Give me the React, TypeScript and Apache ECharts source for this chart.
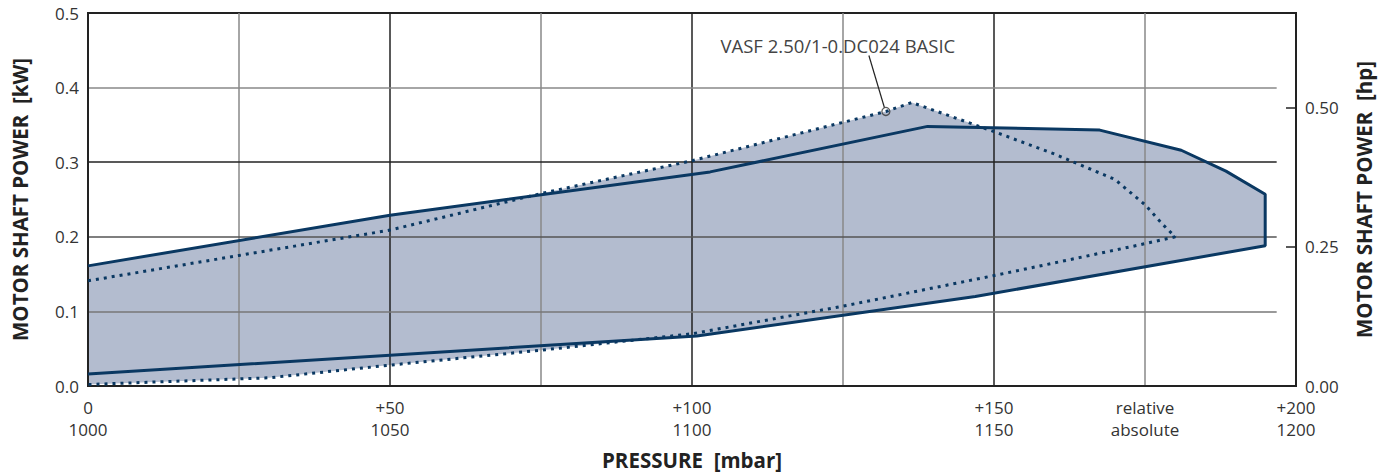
import React, { useEffect, useRef } from "react";
import * as echarts from "echarts";

// Pressure axis (relative mbar) tick labels
const X_TICKS = [0, 25, 50, 75, 100, 125, 150, 175, 200];
const REL_LABELS = ["0", "", "+50", "", "+100", "", "+150", "relative", "+200"];
const ABS_LABELS = ["1000", "", "1050", "", "1100", "", "1150", "absolute", "1200"];

// kW gridlines (they stop short of the right border)
const KW_GRID = [0.1, 0.2, 0.3, 0.4];
const KW_GRID_COLORS = ["#777", "#555", "#222", "#888"];
const KW_GRID_END = 196.8;

// Solid envelope (series range), traced around
const ENV_P = [0, 50, 103, 139, 167.5, 181, 188.4, 194.9, 194.9, 146.9, 100.8, 0];
const ENV_KW = [0.161, 0.229, 0.287, 0.348, 0.343, 0.316, 0.288, 0.257, 0.188, 0.12, 0.067, 0.016];

// Dotted curve: VASF 2.50/1-0.DC024 BASIC
const DOT_P = [0, 25, 50, 75, 100, 132.1, 136.4, 150, 160, 170, 175, 178, 180, 174, 160, 150, 125, 100, 75, 50, 30, 0];
const DOT_KW = [0.141, 0.175, 0.209, 0.258, 0.302, 0.368, 0.38, 0.341, 0.311, 0.277, 0.243, 0.216, 0.2, 0.189, 0.165, 0.148, 0.107, 0.07, 0.048, 0.028, 0.011, 0.002];

// Annotation
const ANNOT_NAME = "VASF 2.50/1-0.DC024 BASIC";
const ANNOT_P = 132.1;
const ANNOT_KW = 0.368;

const KW_PER_HP = 0.7457;
const FONT = "'Open Sans', Lato, sans-serif";
const NAVY = "#0a3862";
const FILL = "#b3bccf";

export default function App() {
  const ref = useRef<HTMLDivElement>(null);
  useEffect(() => {
    document.body.style.margin = "0";
    const chart = echarts.init(ref.current!, null, { renderer: "svg" });
    const polygon = (ps: number[], vs: number[]) => (params: any, api: any) => ({
      type: "polygon",
      shape: { points: ps.map((p, i) => api.coord([p, vs[i]])) },
      style: { fill: FILL, stroke: "none" },
    });
    const titleStyle = { fontFamily: FONT, fontWeight: "bold", fontSize: 20.5, color: "#222" };
    const labelStyle = { fontFamily: FONT, fontSize: 17, color: "#333" };
    chart.setOption({
      animation: false,
      grid: { left: 88, right: 100, top: 13, bottom: 87, show: true, borderColor: "#222", borderWidth: 2, backgroundColor: "transparent" },
      xAxis: {
        type: "value",
        min: 0,
        max: 200,
        interval: 25,
        z: 3,
        name: "PRESSURE  [mbar]",
        nameLocation: "middle",
        nameGap: 63,
        nameTextStyle: titleStyle,
        axisLine: { show: true, lineStyle: { color: "#222", width: 2 } },
        axisTick: { show: false },
        splitLine: { show: true, lineStyle: { color: ["#222", "#888"], width: 1.5 } },
        axisLabel: {
          ...labelStyle,
          lineHeight: 22,
          margin: 10,
          formatter: (v: number) => {
            const i = X_TICKS.indexOf(Math.round(v));
            if (i < 0 || !REL_LABELS[i]) return "";
            return REL_LABELS[i] + "\n" + ABS_LABELS[i];
          },
        },
      },
      yAxis: [
        {
          type: "value",
          min: 0,
          max: 0.5,
          interval: 0.1,
          z: 3,
          name: "MOTOR SHAFT POWER  [kW]",
          nameLocation: "middle",
          nameRotate: 90,
          nameGap: 58,
          nameTextStyle: titleStyle,
          axisLine: { show: true, lineStyle: { color: "#222", width: 2 } },
          axisTick: { show: false },
          splitLine: { show: false },
          axisLabel: { ...labelStyle, margin: 9, formatter: (v: number) => v.toFixed(1) },
        },
        {
          type: "value",
          min: 0,
          max: 0.5 / KW_PER_HP,
          interval: 0.25,
          z: 3,
          position: "right",
          name: "MOTOR SHAFT POWER  [hp]",
          nameLocation: "middle",
          nameRotate: 90,
          nameGap: 57,
          nameTextStyle: titleStyle,
          axisLine: { show: true, lineStyle: { color: "#222", width: 2 } },
          axisTick: { show: true, inside: true, length: 10, lineStyle: { color: "#222", width: 1.5 } },
          splitLine: { show: false },
          axisLabel: {
            ...labelStyle,
            margin: 9,
            formatter: (v: number) => (v > 0.6 ? "" : v.toFixed(2)),
          },
        },
      ],
      series: [
        { type: "custom", z: 1, renderItem: polygon(ENV_P, ENV_KW), data: [[0, 0]], silent: true },
        { type: "custom", z: 1, renderItem: polygon(DOT_P, DOT_KW), data: [[0, 0]], silent: true },
        {
          type: "line",
          z: 3,
          symbol: "none",
          data: [],
          silent: true,
          markLine: {
            z: 3,
            silent: true,
            symbol: "none",
            label: { show: false },
            emphasis: { disabled: true },
            data: KW_GRID.map((y, i) => [
              { coord: [0, y], lineStyle: { color: KW_GRID_COLORS[i], width: 1.5, type: "solid" } },
              { coord: [KW_GRID_END, y] },
            ]),
          },
        },
        {
          type: "line",
          z: 5,
          symbol: "none",
          data: ENV_P.map((p, i) => [p, ENV_KW[i]]),
          lineStyle: { color: NAVY, width: 3 },
        },
        {
          type: "line",
          z: 5,
          symbol: "none",
          data: DOT_P.map((p, i) => [p, DOT_KW[i]]),
          lineStyle: { color: NAVY, width: 3, type: [3, 5], cap: "butt" },
        },
        {
          type: "scatter",
          z: 6,
          data: [[ANNOT_P, ANNOT_KW]],
          symbol: "circle",
          symbolSize: 8,
          itemStyle: { color: "rgba(0,0,0,0)", borderColor: "#333", borderWidth: 1.3 },
        },
      ],
    });
    const pt = chart.convertToPixel({ xAxisIndex: 0, yAxisIndex: 0 }, [ANNOT_P, ANNOT_KW]) as number[];
    chart.setOption({
      graphic: [
        {
          type: "line",
          z: 10,
          shape: { x1: pt[0] - 17, y1: pt[1] - 56, x2: pt[0] - 1.5, y2: pt[1] - 4 },
          style: { stroke: "#222", lineWidth: 1.2 },
        },
        {
          type: "text",
          z: 10,
          x: pt[0] - 48,
          y: pt[1] - 66,
          style: { text: ANNOT_NAME, fill: "#444", font: `18.5px ${FONT}`, align: "center", verticalAlign: "middle" },
        },
      ],
    });
    return () => chart.dispose();
  }, []);
  return <div ref={ref} style={{ width: 1396, height: 475 }} />;
}
